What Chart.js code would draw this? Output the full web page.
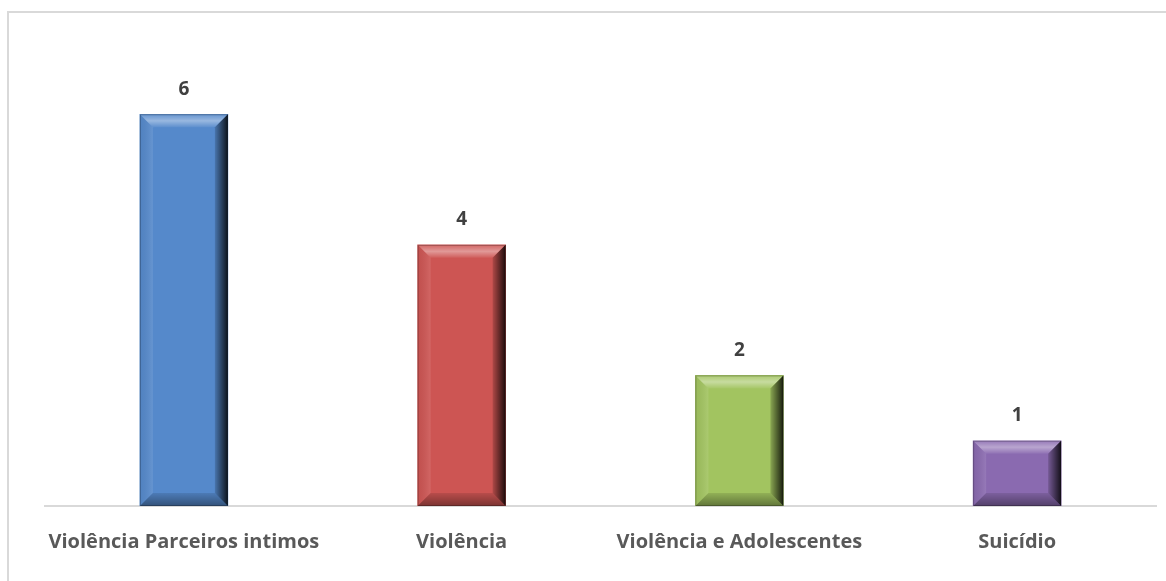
<!DOCTYPE html>
<html>
<head>
<meta charset="utf-8">
<script src="https://cdn.jsdelivr.net/npm/chart.js@4"></script>
<style>
  html, body { margin: 0; padding: 0; background: #fff; overflow: hidden; }
  #wrap { position: relative; width: 1166px; height: 581px; }
  #frame { position: absolute; left: 7px; top: 11px; width: 1200px; height: 700px;
           border: 2px solid #d9d9d9; pointer-events: none; }
  canvas { position: absolute; left: 0; top: 0; }
</style>
</head>
<body>
<div id="wrap">
  <canvas id="chart" width="1166" height="581"></canvas>
  <div id="frame"></div>
</div>
<script>
// chart data
const categories = ["Violência Parceiros intimos", "Violência", "Violência e Adolescentes", "Suicídio"];
const values = [6, 4, 2, 1];
const barColors = ["#5589cb", "#cd5553", "#a2c460", "#8a6ab0"];

// bevel look for each bar (drawn over the library's bar elements)
const bevelPlugin = {
  id: 'bevel',
  afterDatasetsDraw(chart) {
    const ctx = chart.ctx;
    chart.getDatasetMeta(0).data.forEach(bar => {
      const { x, y, base, width } = bar.getProps(['x', 'y', 'base', 'width'], true);
      const l = x - width / 2, r = x + width / 2, t = y, b = base;
      const s = Math.min(13, (b - t) / 2);
      const quad = (pts, fill) => {
        ctx.beginPath();
        ctx.moveTo(pts[0][0], pts[0][1]);
        pts.slice(1).forEach(p => ctx.lineTo(p[0], p[1]));
        ctx.closePath();
        ctx.fillStyle = fill;
        ctx.fill();
      };
      ctx.save();
      // top highlight
      let g = ctx.createLinearGradient(0, t, 0, t + s);
      g.addColorStop(0, 'rgba(255,255,255,0.10)');
      g.addColorStop(0.5, 'rgba(255,255,255,0.40)');
      g.addColorStop(1, 'rgba(255,255,255,0.05)');
      quad([[l, t], [r, t], [r - s, t + s], [l + s, t + s]], g);
      // left
      g = ctx.createLinearGradient(l, 0, l + s, 0);
      g.addColorStop(0, 'rgba(0,0,0,0.05)');
      g.addColorStop(1, 'rgba(255,255,255,0.10)');
      quad([[l, t], [l + s, t + s], [l + s, b - s], [l, b]], g);
      // right shadow
      g = ctx.createLinearGradient(r - s, 0, r, 0);
      g.addColorStop(0, 'rgba(0,0,0,0.15)');
      g.addColorStop(1, 'rgba(0,0,0,0.85)');
      quad([[r, t], [r, b], [r - s, b - s], [r - s, t + s]], g);
      // bottom shadow
      g = ctx.createLinearGradient(0, b - s, 0, b);
      g.addColorStop(0, 'rgba(0,0,0,0.10)');
      g.addColorStop(1, 'rgba(0,0,0,0.40)');
      quad([[l, b], [r, b], [r - s, b - s], [l + s, b - s]], g);
      // thin outline
      ctx.strokeStyle = 'rgba(0,0,0,0.25)';
      ctx.lineWidth = 1;
      ctx.strokeRect(l + 0.5, t + 0.5, width - 1, b - t - 1);
      ctx.restore();
    });
  }
};

// value labels above bars
const valueLabels = {
  id: 'valueLabels',
  afterDatasetsDraw(chart) {
    const ctx = chart.ctx;
    ctx.save();
    ctx.font = 'bold 19px "Open Sans", sans-serif';
    ctx.fillStyle = '#404040';
    ctx.textAlign = 'center';
    ctx.textBaseline = 'middle';
    chart.getDatasetMeta(0).data.forEach((bar, i) => {
      ctx.fillText(values[i], bar.x, bar.y - 25);
    });
    ctx.restore();
  }
};

new Chart(document.getElementById('chart'), {
  type: 'bar',
  data: {
    labels: categories,
    datasets: [{
      data: values,
      backgroundColor: barColors,
      borderWidth: 0,
      barThickness: 88
    }]
  },
  options: {
    responsive: false,
    animation: false,
    layout: { padding: { left: 45, right: 10, top: 49, bottom: 0 } },
    plugins: { legend: { display: false }, tooltip: { enabled: false } },
    scales: {
      x: {
        grid: { display: false },
        border: { display: true, color: '#d9d9d9', width: 2 },
        ticks: {
          color: '#595959',
          padding: 16,
          maxRotation: 0,
          font: { family: '"Open Sans", sans-serif', size: 20, weight: 'bold' }
        },
        afterFit(scale) { scale.height = 75; }
      },
      y: {
        display: false,
        min: 0,
        max: 7
      }
    }
  },
  plugins: [bevelPlugin, valueLabels]
});
</script>
</body>
</html>
